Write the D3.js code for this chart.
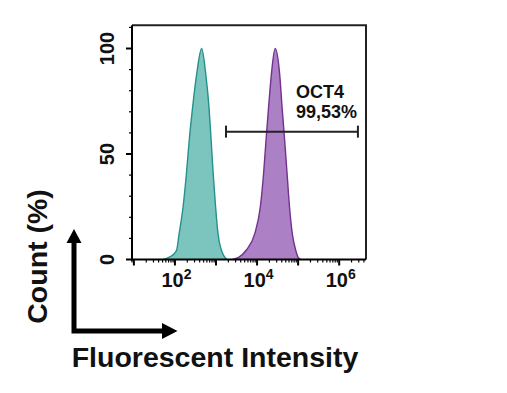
<!DOCTYPE html>
<html>
<head>
<meta charset="utf-8">
<script src="https://cdn.jsdelivr.net/npm/d3@7"></script>
<style>
  html, body { margin: 0; padding: 0; background: #fff; }
  svg { display: block; }
  text { font-family: "Liberation Sans", Arial, sans-serif; font-weight: bold; fill: #111; }
</style>
</head>
<body>
<svg id="chart" width="507" height="393"></svg>
<script>
// ---- data ----
const isotypeIntensity = [52, 71, 93, 110, 126, 158, 191, 224, 269, 339, 447, 562, 676, 759, 851, 977, 1122, 1349, 1585, 1862];
const isotypeCount     = [0, 1, 2.5, 4.5, 12, 25, 41, 57, 72, 88, 100, 88, 72, 57, 41, 25, 12, 4.5, 1.5, 0];
const oct4Intensity    = [2512, 3548, 5495, 8710, 12023, 14454, 16596, 19055, 22387, 27542, 35481, 40738, 46774, 53703, 61660, 72444, 87096, 100000, 114815];
const oct4Count        = [0, 1, 4.5, 12, 25, 41, 57, 72, 88, 100, 88, 72, 57, 41, 25, 12, 4.5, 1, 0];
const xDomain = [9, 4.5e6];
const yDomain = [0, 111];
const xTickLabels = [{v: 1e2, base: "10", exp: "2"}, {v: 1e4, base: "10", exp: "4"}, {v: 1e6, base: "10", exp: "6"}];
const yTickLabels = [0, 50, 100];
const gateRange = [1750, 2.86e6];
const gateLevel = 60.6;
const gateName = "OCT4";
const gatePercent = "99,53%";
const xTitle = "Fluorescent Intensity";
const yTitle = "Count (%)";

(function () {
// ---- layout ----
const svg = d3.select("#chart");
const pL = 132, pR = 366, pT = 25.3, pB = 259.5;
const x = d3.scaleLog().domain(xDomain).range([pL, pR]);
const y = d3.scaleLinear().domain(yDomain).range([pB, pT]);

// histograms
const area = d3.area()
  .x(d => x(d[0])).y0(y(0)).y1(d => y(d[1]))
  .curve(d3.curveMonotoneX);
const line = d3.line()
  .x(d => x(d[0])).y(d => y(d[1]))
  .curve(d3.curveMonotoneX);

const series = [
  {xs: isotypeIntensity, ys: isotypeCount, fill: "#7cc5bf", stroke: "#24918a"},
  {xs: oct4Intensity, ys: oct4Count, fill: "#ab80c4", stroke: "#74308f"}
];
series.forEach(s => {
  const pts = s.xs.map((v, i) => [v, s.ys[i]]);
  svg.append("path").attr("d", area(pts)).attr("fill", s.fill);
  svg.append("path").attr("d", line(pts)).attr("fill", "none")
    .attr("stroke", s.stroke).attr("stroke-width", 1.4);
});

// frame (top + right)
svg.append("path")
  .attr("d", `M${pL},${pT}H${pR}V${pB}`)
  .attr("fill", "none").attr("stroke", "#222").attr("stroke-width", 2);

// y axis
const yTicks = d3.range(0, 111, 10);
const yAxis = svg.append("g");
yAxis.append("line").attr("x1", pL).attr("x2", pL).attr("y1", pT).attr("y2", pB + 1)
  .attr("stroke", "#000").attr("stroke-width", 2);
yTicks.forEach(t => {
  const major = yTickLabels.includes(t);
  yAxis.append("line").attr("x1", pL).attr("x2", pL - (major ? 6 : 3))
    .attr("y1", y(t)).attr("y2", y(t)).attr("stroke", "#000").attr("stroke-width", major ? 2 : 1.2);
});
yTickLabels.forEach(t => {
  yAxis.append("text")
    .attr("transform", `translate(114,${y(t)}) rotate(-90)`)
    .attr("text-anchor", "middle").attr("font-size", 20).text(t);
});

// x axis
const xAxis = svg.append("g");
xAxis.append("line").attr("x1", pL - 1).attr("x2", pR).attr("y1", pB).attr("y2", pB)
  .attr("stroke", "#000").attr("stroke-width", 2);
for (let e = 0; e <= 7; e++) {
  for (let k = 1; k <= 9; k++) {
    const v = k * Math.pow(10, e);
    if (v < xDomain[0] || v > xDomain[1]) continue;
    const major = k === 1;
    xAxis.append("line").attr("x1", x(v)).attr("x2", x(v))
      .attr("y1", pB).attr("y2", pB + (major ? 6 : 3))
      .attr("stroke", "#000").attr("stroke-width", major ? 2 : 1.2);
  }
}
xTickLabels.forEach(t => {
  const tx = xAxis.append("text").attr("x", x(t.v) + 1.5).attr("y", 287)
    .attr("text-anchor", "middle").attr("font-size", 20);
  tx.append("tspan").text(t.base);
  tx.append("tspan").attr("font-size", 14).attr("dy", -8).text(t.exp);
});

// gate
const gy = y(gateLevel), gx1 = x(gateRange[0]), gx2 = x(gateRange[1]);
const gate = svg.append("g").attr("stroke", "#222").attr("stroke-width", 2);
gate.append("line").attr("x1", gx1).attr("x2", gx2).attr("y1", gy).attr("y2", gy);
gate.append("line").attr("x1", gx1).attr("x2", gx1).attr("y1", gy - 6).attr("y2", gy + 6);
gate.append("line").attr("x1", gx2).attr("x2", gx2).attr("y1", gy - 6).attr("y2", gy + 6);
svg.append("text").attr("x", 296).attr("y", 97.5).attr("font-size", 18).text(gateName);
svg.append("text").attr("x", 296).attr("y", 118.3).attr("font-size", 18).text(gatePercent);

// axis arrows
const cx = 74, cy = 331;
svg.append("path").attr("d", `M${cx},${cy}V241M${cx - 2.5},${cy}H163`)
  .attr("stroke", "#000").attr("stroke-width", 5).attr("fill", "none");
svg.append("path").attr("d", `M${cx},229L${cx + 7.5},243L${cx - 7.5},243Z`).attr("fill", "#000");
svg.append("path").attr("d", `M177.5,${cy}L162,${cy - 8}L162,${cy + 8}Z`).attr("fill", "#000");

// titles
svg.append("text").attr("x", 215).attr("y", 367).attr("text-anchor", "middle")
  .attr("font-size", 28.5).text(xTitle);
svg.append("text").attr("transform", "translate(47,256.5) rotate(-90)")
  .attr("text-anchor", "middle").attr("font-size", 28.5).text(yTitle);
})();
</script>
</body>
</html>
